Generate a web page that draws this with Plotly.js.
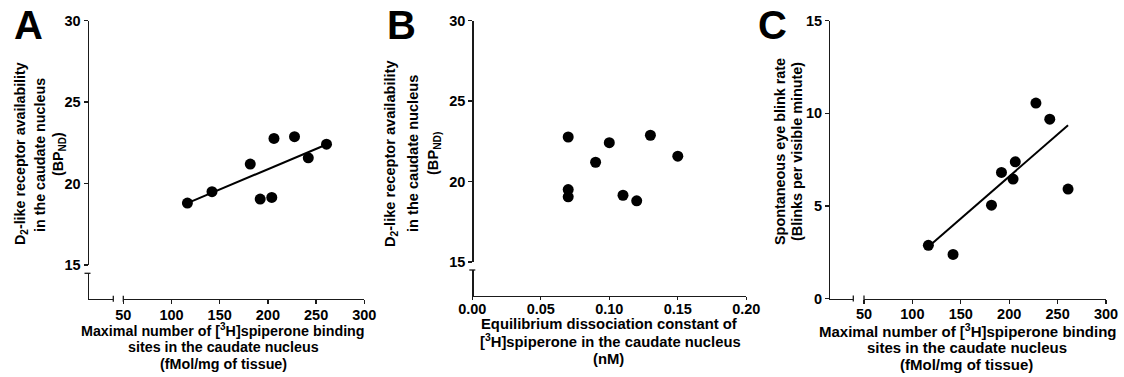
<!DOCTYPE html>
<html>
<head>
<meta charset="utf-8">
<script src="https://cdn.plot.ly/plotly-3.0.1.min.js"></script>
<style>
html,body{margin:0;padding:0;background:#fff;}
#chart{width:1124px;height:377px;}
#chart .xtick text, #chart .ytick text{font-weight:700 !important;}
</style>
</head>
<body>
<div id="chart"></div>
<script>
// ---- data ----
const bmax = [116.5, 142, 181.7, 192, 204, 206.3, 227.6, 241.9, 260.8];      // fMol/mg tissue
const bpnd = [18.8, 19.5, 21.2, 19.05, 19.15, 22.77, 22.88, 21.58, 22.42];   // BP_ND
const kd = [0.12, 0.07, 0.09, 0.07, 0.11, 0.07, 0.13, 0.15, 0.10];          // nM
const blink = [2.87, 2.38, 5.04, 6.81, 6.45, 7.38, 10.55, 9.68, 5.91];      // blinks/min
const fitAx = [116.5, 260.8];
const fitAy = [18.8, 22.4];
const fitCx = [116.5, 260.8];
const fitCy = [2.8, 9.35];
const ticksBmax = [50, 100, 150, 200, 250, 300];
const ticksBmaxText = ['50', '100', '150', '200', '250', '300'];
const ticksBP = [15, 20, 25, 30];
const ticksBPText = ['15', '20', '25', '30'];
const ticksKd = [0, 0.05, 0.10, 0.15, 0.20];
const ticksKdText = ['0.00', '0.05', '0.10', '0.15', '0.20'];
const ticksBlink = [0, 5, 10, 15];
const ticksBlinkText = ['0', '5', '10', '15'];

// ---- layout helpers ----
const W = 1124, H = 377;
const px = v => v / W;
const py = v => 1 - v / H;
const F = 'Liberation Sans, Arial, Helvetica, sans-serif';
const LC = '#1a1a1a';
const TF = {family: F, size: 14.5, color: '#000', weight: 'bold'};
const bold = arr => arr.map(s => '<b>' + s + '</b>');

function ax(extra) {
  return Object.assign({
    showgrid: false, zeroline: false, showline: true, linecolor: LC, linewidth: 1.3,
    ticks: 'outside', ticklen: 4, tickwidth: 1.3, tickcolor: LC,
    tickfont: TF, fixedrange: true, anchor: 'free'
  }, extra);
}
function stub(extra) {
  return Object.assign({
    showgrid: false, zeroline: false, showline: true, linecolor: LC, linewidth: 1.3,
    ticks: '', showticklabels: false, range: [0, 1], fixedrange: true, anchor: 'free'
  }, extra);
}
const mk = {color: '#000', size: 11};

const traces = [
  {x: bmax, y: bpnd, xaxis: 'x', yaxis: 'y', mode: 'markers', type: 'scatter', marker: mk, cliponaxis: false},
  {x: fitAx, y: fitAy, xaxis: 'x', yaxis: 'y', mode: 'lines', type: 'scatter', line: {color: '#000', width: 2}},
  {x: kd, y: bpnd, xaxis: 'x2', yaxis: 'y2', mode: 'markers', type: 'scatter', marker: mk, cliponaxis: false},
  {x: bmax, y: blink, xaxis: 'x3', yaxis: 'y3', mode: 'markers', type: 'scatter', marker: mk, cliponaxis: false},
  {x: fitCx, y: fitCy, xaxis: 'x3', yaxis: 'y3', mode: 'lines', type: 'scatter', line: {color: '#000', width: 2}},
  // stub (broken) axis segments
  {x: [], y: [], xaxis: 'x4', yaxis: 'y4', type: 'scatter', mode: 'markers', hoverinfo: 'skip'},
  {x: [], y: [], xaxis: 'x2', yaxis: 'y5', type: 'scatter', mode: 'markers', hoverinfo: 'skip'},
  {x: [], y: [], xaxis: 'x6', yaxis: 'y3', type: 'scatter', mode: 'markers', hoverinfo: 'skip'}
];

// geometry (pixels)
const A = {yx: 87.5, top: 20.7, bot: 265, stubTop: 273.3, xy: 298.8, stubR: 113.3, x0: 123.3, x1: 364.3};
const B = {yx: 472.3, top: 20.7, bot: 262, stubTop: 270, xy: 296, x0: 472.3, x1: 746.3};
const C = {yx: 829, top: 20.7, xy: 298.5, stubR: 853.3, x0: 864, x1: 1106};

const layout = {
  width: W, height: H, margin: {l: 0, r: 0, t: 0, b: 0},
  paper_bgcolor: '#fff', plot_bgcolor: 'rgba(0,0,0,0)', showlegend: false,
  font: {family: F, color: '#000'},
  // Panel A
  xaxis: ax({domain: [px(A.x0), px(A.x1)], range: [50, 300], tickvals: ticksBmax, ticktext: bold(ticksBmaxText), position: py(A.xy), ticklabelstandoff: -2}),
  yaxis: ax({domain: [py(A.bot), py(A.top)], range: [15, 30], tickvals: ticksBP, ticktext: bold(ticksBPText), position: px(A.yx)}),
  xaxis4: stub({domain: [px(A.yx), px(A.stubR)], position: py(A.xy)}),
  yaxis4: stub({domain: [py(A.xy), py(A.stubTop)], position: px(A.yx)}),
  // Panel B
  xaxis2: ax({domain: [px(B.x0), px(B.x1)], range: [0, 0.2], tickvals: ticksKd, ticktext: bold(ticksKdText), position: py(B.xy), ticklen: 3, ticklabelstandoff: -4}),
  yaxis2: ax({domain: [py(B.bot), py(B.top)], range: [15, 30], tickvals: ticksBP, ticktext: bold(ticksBPText), position: px(B.yx)}),
  yaxis5: stub({domain: [py(B.xy), py(B.stubTop)], position: px(B.yx)}),
  // Panel C
  xaxis3: ax({domain: [px(C.x0), px(C.x1)], range: [50, 300], tickvals: ticksBmax, ticktext: bold(ticksBmaxText), position: py(C.xy), ticklabelstandoff: -2}),
  yaxis3: ax({domain: [py(C.xy), py(C.top)], range: [0, 15], tickvals: ticksBlink, ticktext: bold(ticksBlinkText), position: px(C.yx)}),
  xaxis6: stub({domain: [px(C.yx), px(C.stubR)], position: py(C.xy)}),
  shapes: [],
  annotations: []
};

function seg(x0, y0, x1, y1) {
  layout.shapes.push({type: 'line', xref: 'paper', yref: 'paper', x0: px(x0), y0: py(y0), x1: px(x1), y1: py(y1),
    line: {color: LC, width: 1.3}});
}
// break caps
seg(A.yx - 3, A.stubTop, A.yx + 3, A.stubTop);
seg(A.stubR, A.xy - 3, A.stubR, A.xy + 3);
seg(A.x0, A.xy - 3, A.x0, A.xy + 3);
seg(B.yx - 3, B.stubTop, B.yx + 3, B.stubTop);
seg(C.stubR, C.xy - 3, C.stubR, C.xy + 3);
seg(C.x0, C.xy - 3, C.x0, C.xy + 3);

function txt(t, x, y, size, angle) {
  layout.annotations.push({text: '<b>' + t + '</b>', x: px(x), y: py(y), xref: 'paper', yref: 'paper', showarrow: false,
    xanchor: 'center', yanchor: 'middle', textangle: angle || 0,
    font: {family: F, size: size, color: '#000'}});
}
// panel letters
txt('A', 28, 25, 40);
txt('B', 401, 25, 40);
txt('C', 772, 25, 40);
// Panel A titles
txt('D<sub>2</sub>-like receptor availability', 21, 154, 14.3, -90);
txt('in the caudate nucleus', 40, 155, 14.3, -90);
txt('(BP<sub>ND</sub>)', 59, 154, 14.3, -90);
txt('Maximal number of [<sup>3</sup>H]spiperone binding', 223, 330, 14.3);
txt('sites in the caudate nucleus', 223, 347, 14.3);
txt('(fMol/mg of tissue)', 223, 364, 14.3);
// Panel B titles
txt('D<sub>2</sub>-like receptor availability', 391, 154, 14.6, -90);
txt('in the caudate nucleus', 413, 154, 14.6, -90);
txt('(BP<sub>ND)</sub>', 434, 154, 14.6, -90);
txt('Equilibrium dissociation constant of', 609, 324, 14.8);
txt('[<sup>3</sup>H]spiperone in the caudate nucleus', 610, 341, 14.8);
txt('(nM)', 609, 359, 14.8);
// Panel C titles
txt('Spontaneous eye blink rate', 780, 152, 14.4, -90);
txt('(Blinks per visible minute)', 797, 152, 14.4, -90);
txt('Maximal number of [<sup>3</sup>H]spiperone binding', 968, 330, 15);
txt('sites in the caudate nucleus', 967, 347, 15);
txt('(fMol/mg of tissue)', 966, 364, 15);

Plotly.newPlot('chart', traces, layout, {staticPlot: true, displayModeBar: false});
</script>
</body>
</html>
